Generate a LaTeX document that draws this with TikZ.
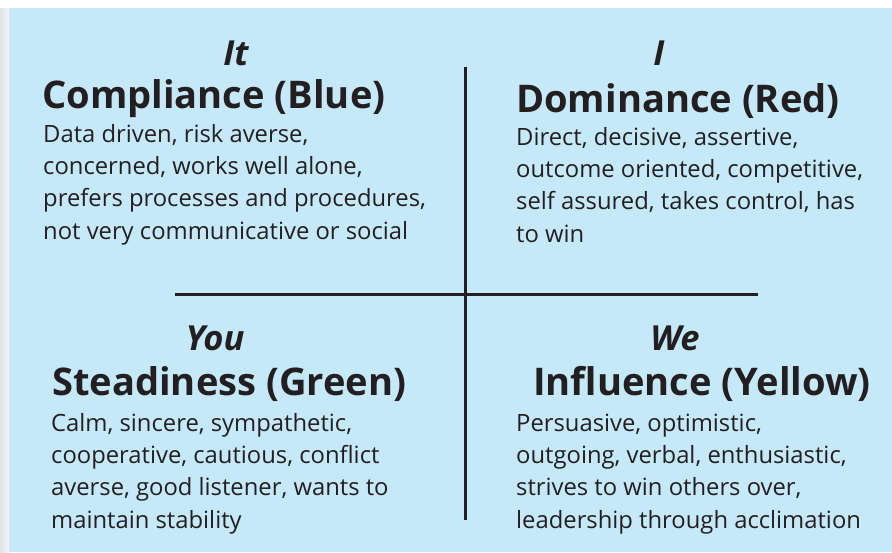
\documentclass[tikz,border=0pt]{standalone}
\usepackage{fontspec}
\setmainfont{Open Sans}
\definecolor{bgblue}{RGB}{198,233,249}
\definecolor{ink}{RGB}{35,31,32}
\tikzset{
  pronoun/.style={anchor=base, inner sep=0pt, text=ink, font=\fontsize{34.5}{40}\selectfont\bfseries\itshape},
  heading/.style={anchor=base west, inner sep=0pt, text=ink, font=\fontsize{38.1}{44}\selectfont\bfseries},
  bodytext/.style={anchor=base west, inner sep=0pt, text=ink, align=left, font=\fontsize{23.8}{32.2}\selectfont},
  axis/.style={draw=ink, line width=3pt}
}
\begin{document}
\begin{tikzpicture}[x=1pt,y=-1pt]
\useasboundingbox (0,0) rectangle (892,552);
\fill[white] (0,0) rectangle (892,552);
\shade[left color=gray!22, right color=gray!8] (0,8) rectangle (9,552);
\fill[bgblue] (9,8) rectangle (892,552);

% axes
\coordinate (vtop) at (465,67);
\coordinate (vbot) at (465,520);
\coordinate (hleft) at (175,294);
\coordinate (hright) at (758,294);
\draw[axis] (vtop) -- (vbot);
\draw[axis] (hleft) -- (hright);

% top left (body nodes are placed at the baseline of their last line)
\node[pronoun] (it) at (236,65) {It};
\node[heading] (comp) at (42,108) {Compliance (Blue)};
\node[bodytext] (compb) at (43,239) {Data driven, risk averse,\\concerned, works well alone,\\prefers processes and procedures,\\not very communicative or social};

% top right
\node[pronoun] (i) at (659,65) {I};
\node[heading] (dom) at (516,112) {Dominance (Red)};
\node[bodytext] (domb) at (516,242) {Direct, decisive, assertive,\\outcome oriented, competitive,\\self assured, takes control, has\\to win};

% bottom left
\node[pronoun] (you) at (215,350) {You};
\node[heading] (ste) at (52,395) {Steadiness (Green)};
\node[bodytext] (steb) at (51,528) {Calm, sincere, sympathetic,\\cooperative, cautious, conflict\\averse, good listener, wants to\\maintain stability};

% bottom right
\node[pronoun] (we) at (675,350) {We};
\node[heading] (inf) at (533,395) {Influence (Yellow)};
\node[bodytext] (infb) at (516,528) {Persuasive, optimistic,\\outgoing, verbal, enthusiastic,\\strives to win others over,\\leadership through acclimation};
\end{tikzpicture}
\end{document}
